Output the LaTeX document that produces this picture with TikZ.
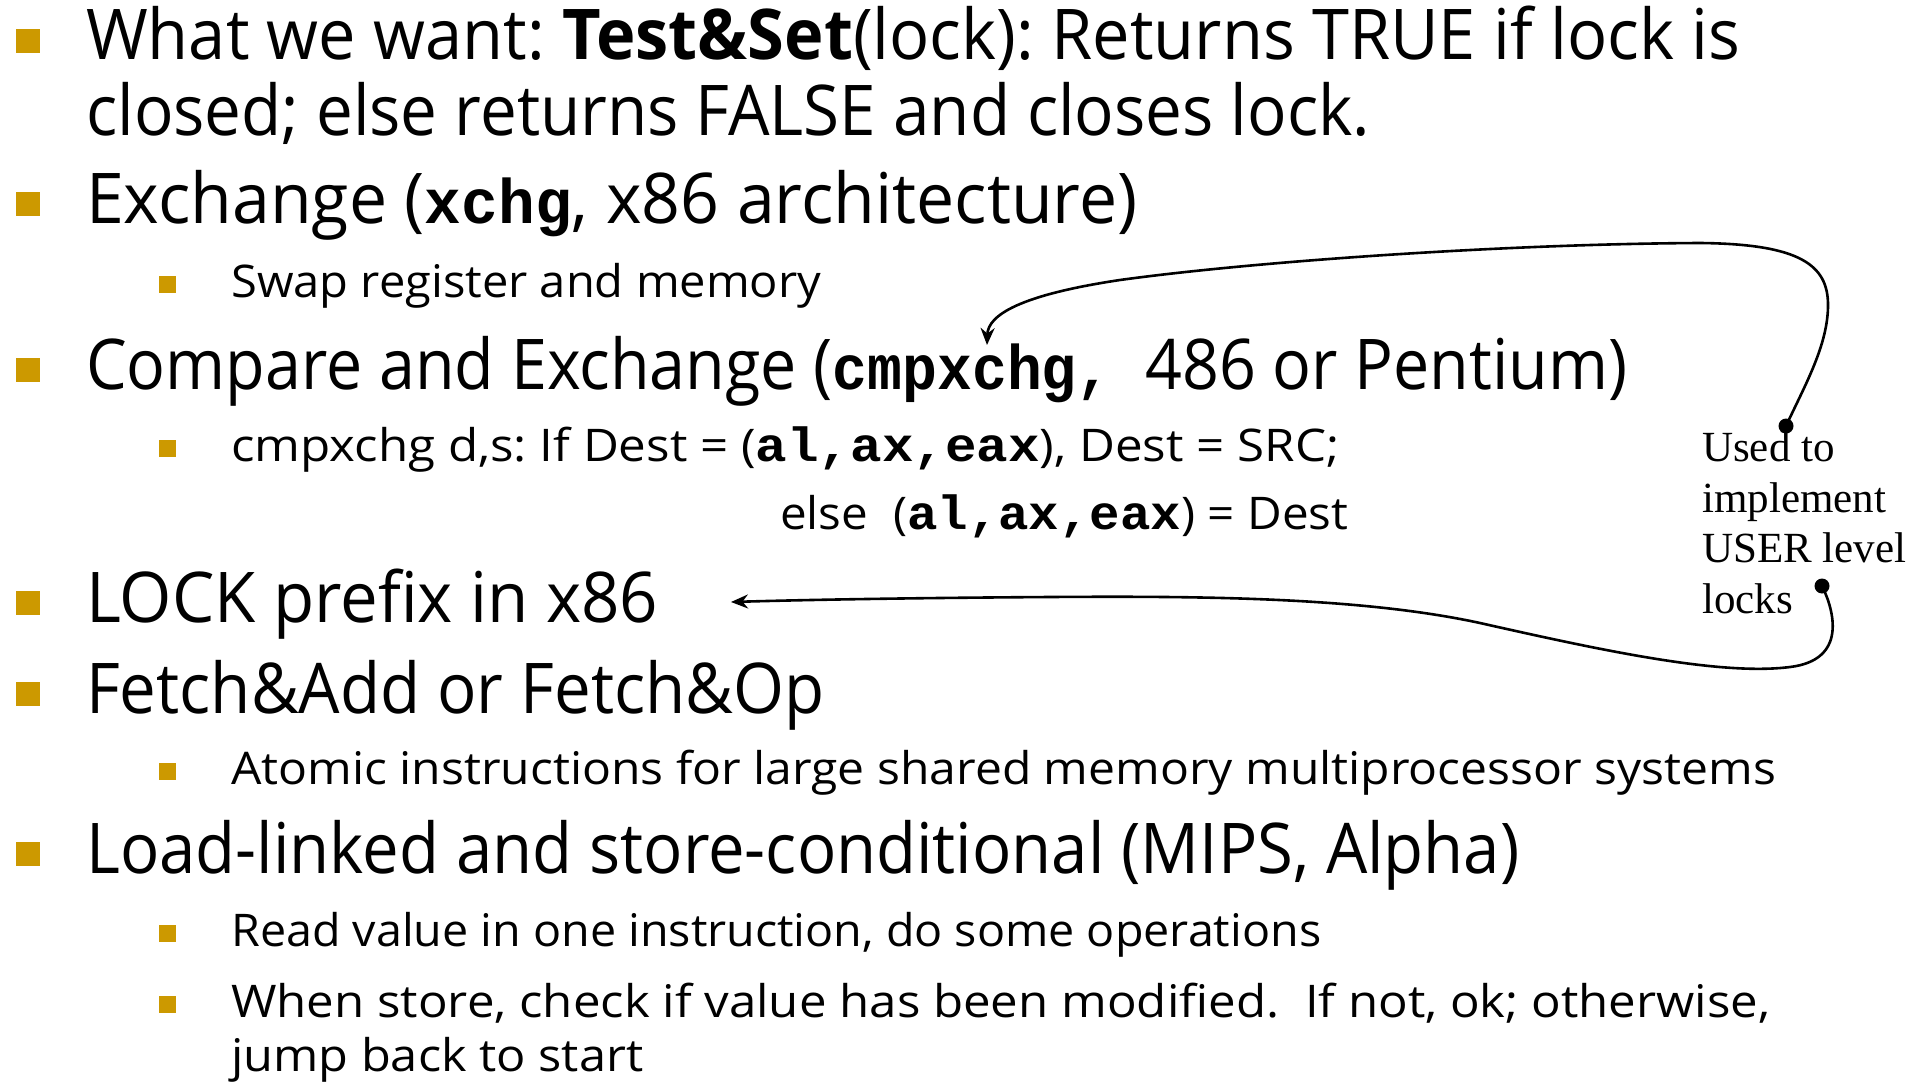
\documentclass[tikz,border=0pt]{standalone}
\usepackage{fontspec}
\usepackage{graphicx}
\setmainfont{Open Sans}
\newfontfamily\codefam{Liberation Mono}
\newfontfamily\notefam{Liberation Serif}
\usetikzlibrary{arrows.meta}
\definecolor{bulletgold}{RGB}{204,153,0}
\frenchspacing
% stretch a line horizontally to a given width, keeping its height
\newcommand\fitline[2]{\resizebox{#1}{\height}{#2}}
\newcommand\codeL[1]{{\codefam\bfseries\fontsize{63}{70}\selectfont #1}}
\newcommand\codeS[1]{{\codefam\bfseries\fontsize{48}{54}\selectfont #1}}

\begin{document}
\begin{tikzpicture}[x=1pt,y=-1pt,
  topline/.style={anchor=base west, inner sep=0pt, font=\fontsize{70}{84}\selectfont},
  subline/.style={anchor=base west, inner sep=0pt, font=\fontsize{45}{54}\selectfont},
  topbullet/.style={rectangle, fill=bulletgold, inner sep=0pt, minimum size=24pt},
  subbullet/.style={rectangle, fill=bulletgold, inner sep=0pt, minimum size=17pt},
  notetext/.style={anchor=base west, inner sep=0pt, align=left,
    font=\notefam\fontsize{43}{50.5}\selectfont},
  link/.style={line width=2.6pt, -{Stealth[length=17pt,width=14pt]}}
]
\fill[white] (0,0) rectangle (1921,1081);
\useasboundingbox (0,0) rectangle (1921,1081);

% bullets
\node[topbullet] (b1) at (28,41) {};
\node[topbullet] (b3) at (28,204) {};
\node[subbullet] (b4) at (167.5,284.5) {};
\node[topbullet] (b5) at (28,370) {};
\node[subbullet] (b6) at (167.5,448.5) {};
\node[topbullet] (b8) at (28,603) {};
\node[topbullet] (b9) at (28,694) {};
\node[subbullet] (b10) at (167.5,771.5) {};
\node[topbullet] (b11) at (28,854) {};
\node[subbullet] (b12) at (167.5,933.5) {};
\node[subbullet] (b13) at (167.5,1004.5) {};

% text lines
\node[topline] (t1) at (86,60) {\fitline{1654pt}{What we want: \textbf{Test\&Set}(lock): Returns TRUE if lock is}};
\node[topline] (t2) at (86,135) {\fitline{1284pt}{closed; else returns FALSE and closes lock.}};
\node[topline] (t3) at (86,223) {\fitline{1051pt}{Exchange (\codeL{xchg}, x86 architecture)}};
\node[subline] (t4) at (231,297) {\fitline{590pt}{Swap register and memory}};
\node[topline] (t5) at (86,389) {\fitline{1541pt}{Compare and Exchange (\codeL{cmpxchg,}\ \ 486 or Pentium)}};
\node[subline] (t6) at (231,461) {\fitline{1108pt}{cmpxchg d,s: If Dest = (\codeS{al,ax,eax}), Dest = SRC;}};
\node[subline] (t7) at (780,529) {\fitline{568pt}{else\ \ (\codeS{al,ax,eax}) = Dest}};
\node[topline] (t8) at (86,622) {\fitline{572pt}{LOCK prefix in x86}};
\node[topline] (t9) at (86,713) {\fitline{738pt}{Fetch\&Add or Fetch\&Op}};
\node[subline] (t10) at (231,784) {\fitline{1545pt}{Atomic instructions for large shared memory multiprocessor systems}};
\node[topline] (t11) at (86,873) {\fitline{1433pt}{Load-linked and store-conditional (MIPS, Alpha)}};
\node[subline] (t12) at (231,946) {\fitline{1090pt}{Read value in one instruction, do some operations}};
\node[subline] (t13) at (231,1017) {\fitline{1539pt}{When store, check if value has been modified.\ \ If not, ok; otherwise,}};
\node[subline] (t14) at (231,1071) {\fitline{412pt}{jump back to start}};

% side note (anchored on the baseline of its last line)
\node[notetext] (note) at (1702,613) {Used to\\implement\\USER level\\locks};

% connectors from the note
\coordinate (tail1) at (1786,426);
\coordinate (head1) at (987,345);
\coordinate (tail2) at (1822,586);
\coordinate (head2) at (731,602);
\draw[link] (tail1) .. controls (1805,385) and (1828,345) .. (1828,305)
  .. controls (1828,265) and (1800,244) .. (1700,243)
  .. controls (1500,244) and (1250,262) .. (1120,280)
  .. controls (1020,295) and (988,315) .. (head1);
\draw[link] (tail2) .. controls (1834,610) and (1848,660) .. (1790,667)
  .. controls (1720,676) and (1600,650) .. (1480,623)
  .. controls (1360,597) and (1200,596) .. (1050,597)
  .. controls (900,598) and (800,600) .. (head2);
\fill (tail1) circle (7.5pt);
\fill (tail2) circle (7.5pt);
\end{tikzpicture}
\end{document}
